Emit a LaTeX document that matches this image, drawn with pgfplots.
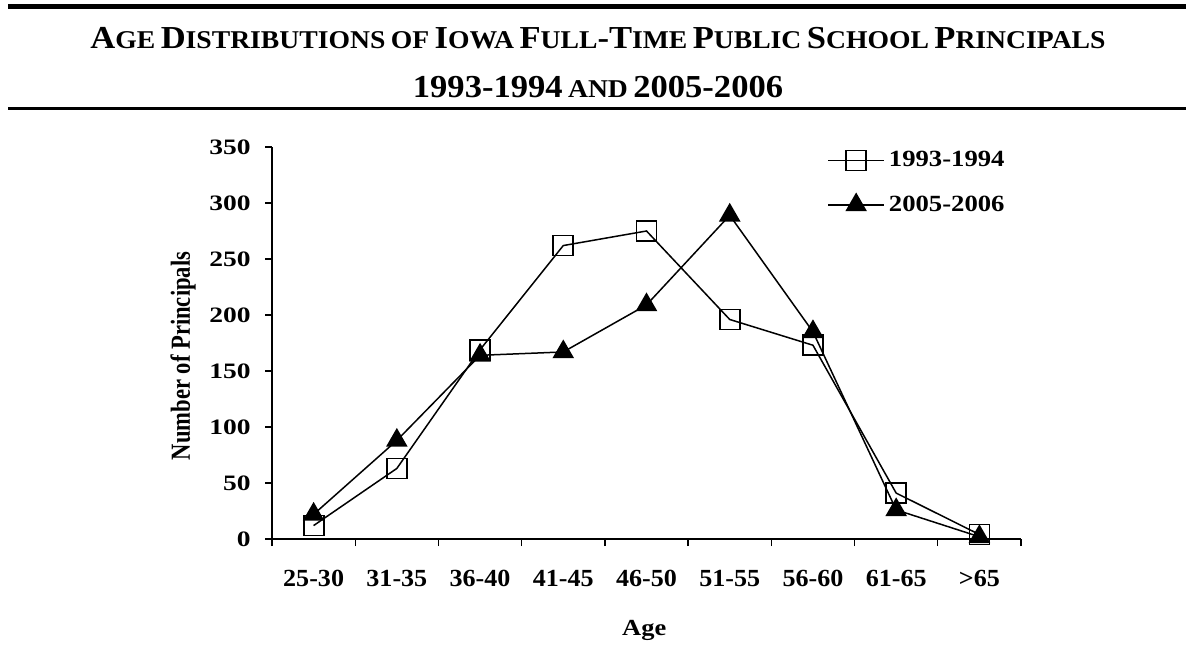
\documentclass[border=0pt]{standalone}
\usepackage{fontspec}
\setmainfont{Liberation Serif}
\newfontfamily\fA{Liberation Serif}[FakeStretch=1.25]
\newfontfamily\fB{Liberation Serif}[FakeStretch=1.15]
\newfontfamily\fX{Liberation Serif}[FakeStretch=1.06]
\newfontfamily\fT{Liberation Serif}[FakeStretch=1.08]
\usepackage{graphicx}
\usepackage{pgfplots}
\pgfplotsset{compat=1.18}
\newcommand\BC[1]{{\fontsize{16}{18}\selectfont #1}}
\newcommand\SC[1]{{\fontsize{12.8}{14}\selectfont #1}}
\begin{document}
\begin{tikzpicture}[font=\bfseries]
\useasboundingbox (0,0) rectangle (593pt,324pt);
\fill (4pt,319.5pt) rectangle (593pt,322pt);
\fill (4pt,269pt) rectangle (593pt,270.6pt);
\node[anchor=base,inner sep=0pt,font=\fT\bfseries] at (299pt,299.5pt) {\BC{A}\SC{GE} \BC{D}\SC{ISTRIBUTIONS} \SC{OF} \BC{I}\SC{OWA} \BC{F}\SC{ULL}\BC{-T}\SC{IME} \BC{P}\SC{UBLIC} \BC{S}\SC{CHOOL} \BC{P}\SC{RINCIPALS}};
\node[anchor=base,inner sep=0pt,font=\fT\bfseries] at (299pt,275pt) {\BC{1993-1994} \SC{AND} \BC{2005-2006}};
\begin{axis}[
  at={(136pt,54.5pt)}, anchor=south west,
  scale only axis, width=374.5pt, height=196pt,
  xmin=-0.5, xmax=8.5, ymin=0, ymax=350,
  axis x line=bottom, axis y line=left,
  axis line style={-, line width=0.7pt},
  tick align=outside, major tick length=3.5pt,
  tick style={line width=0.7pt, black},
  xtick={-0.5,0.5,...,8.5},
  xticklabels={25-30,31-35,36-40,41-45,46-50,51-55,56-60,61-65,>65,{}},
  xticklabel style={anchor=base, xshift=20.81pt, yshift=-20pt, inner sep=0pt, font=\fX\bfseries\fontsize{12.3}{14}\selectfont},
  ytick={0,50,...,350},
  yticklabel style={anchor=east, xshift=-7pt, inner sep=0pt, font=\fA\bfseries\fontsize{11}{13}\selectfont},
  /pgf/number format/assume math mode=true,
  ylabel={\scalebox{1}[1.22]{Number of Principals}},
  ylabel style={at={(axis description cs:-0.1188,0.467)}, anchor=center, font=\bfseries\fontsize{11.3}{13}\selectfont},
  xlabel={Age},
  xlabel style={at={(axis description cs:0.497,-0.232)}, anchor=center, font=\fB\bfseries\fontsize{11.5}{13}\selectfont},
  legend style={draw=none, fill=none, at={(0.741,1.0)}, anchor=north west, inner sep=0pt, row sep=9pt, font=\fB\bfseries\fontsize{11.6}{13}\selectfont},
  legend cell align=left,
  legend image code/.code={\draw[mark repeat=2,mark phase=2,#1] plot coordinates {(0pt,0pt) (14pt,0pt) (28pt,0pt)};},
]
\addplot[black, line width=0.75pt, mark=square, mark size=5pt, mark options={fill=white, line width=0.9pt}]
  coordinates {(0,12) (1,63) (2,169) (3,262) (4,275) (5,196) (6,173) (7,41) (8,4)};
\addlegendentry{1993-1994}
\addplot[black, line width=0.75pt, mark=triangle*, mark size=5.5pt, mark options={fill=black}]
  coordinates {(0,22) (1,88) (2,164) (3,167) (4,209) (5,289) (6,185) (7,26) (8,2)};
\addlegendentry{2005-2006}
\end{axis}
\end{tikzpicture}
\end{document}
